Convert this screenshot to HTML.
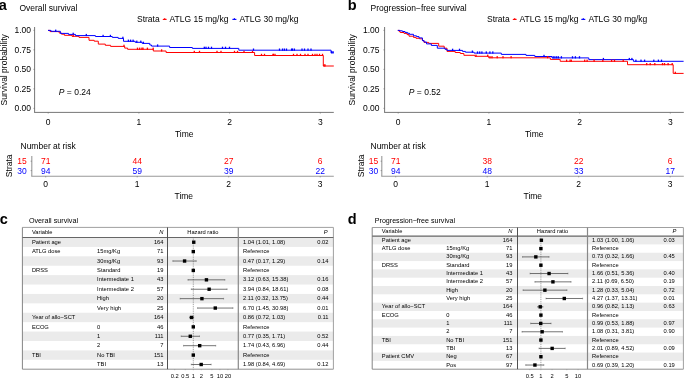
<!DOCTYPE html>
<html><head><meta charset="utf-8"><style>
html,body{margin:0;padding:0;background:#fff;}
body{width:685px;height:378px;overflow:hidden;}
svg{display:block;font-family:"Liberation Sans", sans-serif;will-change:transform;}
</style></head><body>
<svg width="685" height="378" viewBox="0 0 685 378">
<text x="-1.20" y="10.20" font-size="14.5" font-weight="bold">a</text>
<text x="19.40" y="11.20" font-size="8.5">Overall survival</text>
<text x="137.00" y="22.40" font-size="8.5">Strata</text>
<line x1="162.80" y1="19.40" x2="166.60" y2="19.40" stroke="#ff0000" stroke-width="1.1"/>
<rect x="164.10" y="18.20" width="1.20" height="1.40" fill="#ff0000"/>
<text x="169.50" y="22.40" font-size="8.5">ATLG 15 mg/kg</text>
<line x1="232.40" y1="19.40" x2="236.40" y2="19.40" stroke="#0000ff" stroke-width="1.1"/>
<rect x="233.80" y="18.20" width="1.20" height="1.40" fill="#0000ff"/>
<text x="239.50" y="22.40" font-size="8.5">ATLG 30 mg/kg</text>
<line x1="34.60" y1="27.00" x2="34.60" y2="112.40" stroke="#666" stroke-width="0.9"/>
<line x1="34.20" y1="112.40" x2="333.80" y2="112.40" stroke="#666" stroke-width="0.9"/>
<text x="31.00" y="33.30" font-size="8.5" text-anchor="end">1.00</text>
<line x1="33.40" y1="30.35" x2="34.60" y2="30.35" stroke="#666" stroke-width="0.6"/>
<text x="31.00" y="52.80" font-size="8.5" text-anchor="end">0.75</text>
<line x1="33.40" y1="49.85" x2="34.60" y2="49.85" stroke="#666" stroke-width="0.6"/>
<text x="31.00" y="72.30" font-size="8.5" text-anchor="end">0.50</text>
<line x1="33.40" y1="69.35" x2="34.60" y2="69.35" stroke="#666" stroke-width="0.6"/>
<text x="31.00" y="91.80" font-size="8.5" text-anchor="end">0.25</text>
<line x1="33.40" y1="88.85" x2="34.60" y2="88.85" stroke="#666" stroke-width="0.6"/>
<text x="31.00" y="111.30" font-size="8.5" text-anchor="end">0.00</text>
<line x1="33.40" y1="108.35" x2="34.60" y2="108.35" stroke="#666" stroke-width="0.6"/>
<text x="48.20" y="124.50" font-size="8.5" text-anchor="middle">0</text>
<line x1="48.20" y1="112.40" x2="48.20" y2="113.60" stroke="#666" stroke-width="0.6"/>
<text x="138.90" y="124.50" font-size="8.5" text-anchor="middle">1</text>
<line x1="138.90" y1="112.40" x2="138.90" y2="113.60" stroke="#666" stroke-width="0.6"/>
<text x="229.60" y="124.50" font-size="8.5" text-anchor="middle">2</text>
<line x1="229.60" y1="112.40" x2="229.60" y2="113.60" stroke="#666" stroke-width="0.6"/>
<text x="320.30" y="124.50" font-size="8.5" text-anchor="middle">3</text>
<line x1="320.30" y1="112.40" x2="320.30" y2="113.60" stroke="#666" stroke-width="0.6"/>
<text x="184.20" y="136.80" font-size="8.5" text-anchor="middle">Time</text>
<text x="0" y="0" font-size="8.5" text-anchor="middle" transform="translate(6.6,69.8) rotate(-90)">Survival probability</text>
<text x="58.80" y="94.8" font-size="8.5"><tspan font-style="italic">P</tspan> = 0.24</text>
<path d="M48.00,30.40H50.00V31.60H59.20V33.00H61.50V34.20H64.40V35.30H72.00V36.30H79.00V37.40H89.00V40.30H94.20V41.20H98.30V44.10H105.30V45.30H110.60V46.40H124.70V48.10H127.60V49.30H153.30V51.00H166.10V52.50H254.60V55.50H323.30V66.00H333.80" fill="none" stroke="#ff0000" stroke-width="1"/>
<path d="M48.00,30.40H51.00V31.30H60.40V33.40H68.50V34.40H75.50V35.60H95.40V36.50H112.30V37.40H118.20V38.40H123.50V41.30H135.20V42.30H142.20V43.40H149.80V45.00H151.50V46.10H169.60V47.50H192.40V48.40H238.80V50.20H331.10V52.80H333.80" fill="none" stroke="#0000ff" stroke-width="1"/>
<rect x="55.05" y="29.60" width="1.30" height="2.20" fill="#0000ff"/>
<rect x="72.55" y="32.70" width="1.30" height="2.20" fill="#0000ff"/>
<rect x="85.65" y="33.90" width="1.30" height="2.20" fill="#0000ff"/>
<rect x="102.45" y="34.80" width="1.30" height="2.20" fill="#0000ff"/>
<rect x="109.75" y="34.80" width="1.30" height="2.20" fill="#0000ff"/>
<rect x="122.25" y="36.70" width="1.30" height="2.20" fill="#0000ff"/>
<rect x="127.75" y="39.60" width="1.30" height="2.20" fill="#0000ff"/>
<rect x="129.95" y="39.60" width="1.30" height="2.20" fill="#0000ff"/>
<rect x="132.45" y="39.60" width="1.30" height="2.20" fill="#0000ff"/>
<rect x="136.15" y="40.60" width="1.30" height="2.20" fill="#0000ff"/>
<rect x="140.15" y="40.60" width="1.30" height="2.20" fill="#0000ff"/>
<rect x="142.75" y="41.70" width="1.30" height="2.20" fill="#0000ff"/>
<rect x="156.95" y="44.40" width="1.30" height="2.20" fill="#0000ff"/>
<rect x="203.65" y="46.70" width="1.30" height="2.20" fill="#0000ff"/>
<rect x="205.35" y="46.70" width="1.30" height="2.20" fill="#0000ff"/>
<rect x="207.85" y="46.70" width="1.30" height="2.20" fill="#0000ff"/>
<rect x="210.85" y="46.70" width="1.30" height="2.20" fill="#0000ff"/>
<rect x="221.85" y="46.70" width="1.30" height="2.20" fill="#0000ff"/>
<rect x="224.85" y="46.70" width="1.30" height="2.20" fill="#0000ff"/>
<rect x="228.85" y="46.70" width="1.30" height="2.20" fill="#0000ff"/>
<rect x="252.85" y="48.50" width="1.30" height="2.20" fill="#0000ff"/>
<rect x="278.85" y="48.50" width="1.30" height="2.20" fill="#0000ff"/>
<rect x="281.85" y="48.50" width="1.30" height="2.20" fill="#0000ff"/>
<rect x="283.75" y="48.50" width="1.30" height="2.20" fill="#0000ff"/>
<rect x="285.85" y="48.50" width="1.30" height="2.20" fill="#0000ff"/>
<rect x="290.95" y="48.50" width="1.30" height="2.20" fill="#0000ff"/>
<rect x="291.85" y="48.50" width="1.30" height="2.20" fill="#0000ff"/>
<rect x="293.75" y="48.50" width="1.30" height="2.20" fill="#0000ff"/>
<rect x="301.35" y="48.50" width="1.30" height="2.20" fill="#0000ff"/>
<rect x="303.85" y="48.50" width="1.30" height="2.20" fill="#0000ff"/>
<rect x="307.35" y="48.50" width="1.30" height="2.20" fill="#0000ff"/>
<rect x="310.35" y="48.50" width="1.30" height="2.20" fill="#0000ff"/>
<rect x="330.85" y="51.10" width="1.30" height="2.20" fill="#0000ff"/>
<rect x="332.35" y="51.10" width="1.30" height="2.20" fill="#0000ff"/>
<rect x="72.55" y="34.60" width="1.30" height="2.20" fill="#ff0000"/>
<rect x="123.35" y="44.70" width="1.30" height="2.20" fill="#ff0000"/>
<rect x="136.85" y="47.60" width="1.30" height="2.20" fill="#ff0000"/>
<rect x="139.05" y="47.60" width="1.30" height="2.20" fill="#ff0000"/>
<rect x="141.25" y="47.60" width="1.30" height="2.20" fill="#ff0000"/>
<rect x="142.35" y="47.60" width="1.30" height="2.20" fill="#ff0000"/>
<rect x="146.75" y="47.60" width="1.30" height="2.20" fill="#ff0000"/>
<rect x="152.55" y="47.60" width="1.30" height="2.20" fill="#ff0000"/>
<rect x="160.95" y="49.30" width="1.30" height="2.20" fill="#ff0000"/>
<rect x="193.65" y="50.80" width="1.30" height="2.20" fill="#ff0000"/>
<rect x="198.85" y="50.80" width="1.30" height="2.20" fill="#ff0000"/>
<rect x="216.35" y="50.80" width="1.30" height="2.20" fill="#ff0000"/>
<rect x="220.35" y="50.80" width="1.30" height="2.20" fill="#ff0000"/>
<rect x="233.85" y="50.80" width="1.30" height="2.20" fill="#ff0000"/>
<rect x="236.85" y="50.80" width="1.30" height="2.20" fill="#ff0000"/>
<rect x="243.35" y="50.80" width="1.30" height="2.20" fill="#ff0000"/>
<rect x="251.85" y="50.80" width="1.30" height="2.20" fill="#ff0000"/>
<rect x="260.85" y="53.80" width="1.30" height="2.20" fill="#ff0000"/>
<rect x="263.85" y="53.80" width="1.30" height="2.20" fill="#ff0000"/>
<rect x="272.35" y="53.80" width="1.30" height="2.20" fill="#ff0000"/>
<rect x="272.85" y="53.80" width="1.30" height="2.20" fill="#ff0000"/>
<rect x="274.35" y="53.80" width="1.30" height="2.20" fill="#ff0000"/>
<rect x="292.85" y="53.80" width="1.30" height="2.20" fill="#ff0000"/>
<rect x="296.35" y="53.80" width="1.30" height="2.20" fill="#ff0000"/>
<rect x="299.85" y="53.80" width="1.30" height="2.20" fill="#ff0000"/>
<rect x="304.35" y="53.80" width="1.30" height="2.20" fill="#ff0000"/>
<rect x="307.35" y="53.80" width="1.30" height="2.20" fill="#ff0000"/>
<rect x="311.85" y="53.80" width="1.30" height="2.20" fill="#ff0000"/>
<rect x="314.35" y="53.80" width="1.30" height="2.20" fill="#ff0000"/>
<rect x="316.35" y="53.80" width="1.30" height="2.20" fill="#ff0000"/>
<rect x="318.85" y="53.80" width="1.30" height="2.20" fill="#ff0000"/>
<rect x="321.85" y="53.80" width="1.30" height="2.20" fill="#ff0000"/>
<rect x="323.35" y="64.30" width="1.30" height="2.20" fill="#ff0000"/>
<rect x="324.35" y="64.30" width="1.30" height="2.20" fill="#ff0000"/>
<text x="20.50" y="149.00" font-size="8.5">Number at risk</text>
<text x="0" y="0" font-size="8.5" text-anchor="middle" transform="translate(12.2,165.8) rotate(-90)">Strata</text>
<text x="26.80" y="164.20" font-size="8.5" text-anchor="end" fill="#ff0000">15</text>
<text x="26.80" y="173.60" font-size="8.5" text-anchor="end" fill="#0000ff">30</text>
<line x1="31.80" y1="156.00" x2="31.80" y2="176.20" stroke="#999" stroke-width="1.1"/>
<line x1="31.30" y1="176.20" x2="333.80" y2="176.20" stroke="#999" stroke-width="1.1"/>
<text x="45.70" y="164.20" font-size="8.5" text-anchor="middle" fill="#ff0000">71</text>
<text x="45.70" y="173.60" font-size="8.5" text-anchor="middle" fill="#0000ff">94</text>
<text x="45.70" y="187.30" font-size="8.5" text-anchor="middle">0</text>
<line x1="45.70" y1="176.20" x2="45.70" y2="177.40" stroke="#666" stroke-width="0.6"/>
<text x="137.20" y="164.20" font-size="8.5" text-anchor="middle" fill="#ff0000">44</text>
<text x="137.20" y="173.60" font-size="8.5" text-anchor="middle" fill="#0000ff">59</text>
<text x="137.20" y="187.30" font-size="8.5" text-anchor="middle">1</text>
<line x1="137.20" y1="176.20" x2="137.20" y2="177.40" stroke="#666" stroke-width="0.6"/>
<text x="228.70" y="164.20" font-size="8.5" text-anchor="middle" fill="#ff0000">27</text>
<text x="228.70" y="173.60" font-size="8.5" text-anchor="middle" fill="#0000ff">39</text>
<text x="228.70" y="187.30" font-size="8.5" text-anchor="middle">2</text>
<line x1="228.70" y1="176.20" x2="228.70" y2="177.40" stroke="#666" stroke-width="0.6"/>
<text x="320.20" y="164.20" font-size="8.5" text-anchor="middle" fill="#ff0000">6</text>
<text x="320.20" y="173.60" font-size="8.5" text-anchor="middle" fill="#0000ff">22</text>
<text x="320.20" y="187.30" font-size="8.5" text-anchor="middle">3</text>
<line x1="320.20" y1="176.20" x2="320.20" y2="177.40" stroke="#666" stroke-width="0.6"/>
<line x1="30.60" y1="161.20" x2="31.80" y2="161.20" stroke="#666" stroke-width="0.6"/>
<line x1="30.60" y1="170.60" x2="31.80" y2="170.60" stroke="#666" stroke-width="0.6"/>
<text x="183.80" y="199.20" font-size="8.5" text-anchor="middle">Time</text>
<text x="347.80" y="10.20" font-size="14.5" font-weight="bold">b</text>
<text x="370.60" y="11.20" font-size="8.5">Progression−free survival</text>
<text x="487.00" y="22.40" font-size="8.5">Strata</text>
<line x1="512.80" y1="19.40" x2="516.60" y2="19.40" stroke="#ff0000" stroke-width="1.1"/>
<rect x="514.10" y="18.20" width="1.20" height="1.40" fill="#ff0000"/>
<text x="519.50" y="22.40" font-size="8.5">ATLG 15 mg/kg</text>
<line x1="581.30" y1="19.40" x2="585.30" y2="19.40" stroke="#0000ff" stroke-width="1.1"/>
<rect x="582.70" y="18.20" width="1.20" height="1.40" fill="#0000ff"/>
<text x="588.40" y="22.40" font-size="8.5">ATLG 30 mg/kg</text>
<line x1="384.60" y1="27.00" x2="384.60" y2="112.40" stroke="#666" stroke-width="0.9"/>
<line x1="384.20" y1="112.40" x2="683.80" y2="112.40" stroke="#666" stroke-width="0.9"/>
<text x="379.50" y="33.30" font-size="8.5" text-anchor="end">1.00</text>
<line x1="383.40" y1="30.35" x2="384.60" y2="30.35" stroke="#666" stroke-width="0.6"/>
<text x="379.50" y="52.80" font-size="8.5" text-anchor="end">0.75</text>
<line x1="383.40" y1="49.85" x2="384.60" y2="49.85" stroke="#666" stroke-width="0.6"/>
<text x="379.50" y="72.30" font-size="8.5" text-anchor="end">0.50</text>
<line x1="383.40" y1="69.35" x2="384.60" y2="69.35" stroke="#666" stroke-width="0.6"/>
<text x="379.50" y="91.80" font-size="8.5" text-anchor="end">0.25</text>
<line x1="383.40" y1="88.85" x2="384.60" y2="88.85" stroke="#666" stroke-width="0.6"/>
<text x="379.50" y="111.30" font-size="8.5" text-anchor="end">0.00</text>
<line x1="383.40" y1="108.35" x2="384.60" y2="108.35" stroke="#666" stroke-width="0.6"/>
<text x="398.20" y="124.50" font-size="8.5" text-anchor="middle">0</text>
<line x1="398.20" y1="112.40" x2="398.20" y2="113.60" stroke="#666" stroke-width="0.6"/>
<text x="488.90" y="124.50" font-size="8.5" text-anchor="middle">1</text>
<line x1="488.90" y1="112.40" x2="488.90" y2="113.60" stroke="#666" stroke-width="0.6"/>
<text x="579.60" y="124.50" font-size="8.5" text-anchor="middle">2</text>
<line x1="579.60" y1="112.40" x2="579.60" y2="113.60" stroke="#666" stroke-width="0.6"/>
<text x="670.30" y="124.50" font-size="8.5" text-anchor="middle">3</text>
<line x1="670.30" y1="112.40" x2="670.30" y2="113.60" stroke="#666" stroke-width="0.6"/>
<text x="534.20" y="136.80" font-size="8.5" text-anchor="middle">Time</text>
<text x="0" y="0" font-size="8.5" text-anchor="middle" transform="translate(355.3,69.8) rotate(-90)">Survival probability</text>
<text x="408.80" y="94.8" font-size="8.5"><tspan font-style="italic">P</tspan> = 0.52</text>
<path d="M397.80,30.40H399.20V31.50H400.20V32.50H404.00V33.40H407.00V34.60H409.00V36.20H413.50V37.40H416.00V38.30H419.50V38.80H422.50V40.50H424.00V42.40H428.70V43.40H438.70V46.20H444.20V48.20H447.00V51.40H455.20V52.50H460.30V53.50H463.90V55.30H474.90V56.30H488.70V57.80H550.30V59.40H560.20V61.30H627.50V64.70H673.20V73.40H683.60" fill="none" stroke="#ff0000" stroke-width="1"/>
<path d="M397.80,30.40H400.10V30.80H402.40V31.50H405.00V32.40H407.50V33.30H409.50V34.30H413.50V35.80H416.50V36.60H419.00V37.90H422.40V40.60H424.00V42.00H426.50V43.90H431.30V45.40H437.30V48.20H445.00V49.30H447.00V50.40H462.50V51.40H465.40V52.20H474.10V53.10H501.30V54.40H526.00V55.40H534.80V56.50H552.00V57.90H588.80V59.60H633.40V61.30H683.60" fill="none" stroke="#0000ff" stroke-width="1"/>
<rect x="451.95" y="48.70" width="1.30" height="2.20" fill="#0000ff"/>
<rect x="458.85" y="48.70" width="1.30" height="2.20" fill="#0000ff"/>
<rect x="471.75" y="50.50" width="1.30" height="2.20" fill="#0000ff"/>
<rect x="476.85" y="51.40" width="1.30" height="2.20" fill="#0000ff"/>
<rect x="479.05" y="51.40" width="1.30" height="2.20" fill="#0000ff"/>
<rect x="481.25" y="51.40" width="1.30" height="2.20" fill="#0000ff"/>
<rect x="485.65" y="51.40" width="1.30" height="2.20" fill="#0000ff"/>
<rect x="489.25" y="51.40" width="1.30" height="2.20" fill="#0000ff"/>
<rect x="492.15" y="51.40" width="1.30" height="2.20" fill="#0000ff"/>
<rect x="543.35" y="54.80" width="1.30" height="2.20" fill="#0000ff"/>
<rect x="552.55" y="56.20" width="1.30" height="2.20" fill="#0000ff"/>
<rect x="554.25" y="56.20" width="1.30" height="2.20" fill="#0000ff"/>
<rect x="556.05" y="56.20" width="1.30" height="2.20" fill="#0000ff"/>
<rect x="557.75" y="56.20" width="1.30" height="2.20" fill="#0000ff"/>
<rect x="560.75" y="56.20" width="1.30" height="2.20" fill="#0000ff"/>
<rect x="571.85" y="56.20" width="1.30" height="2.20" fill="#0000ff"/>
<rect x="574.75" y="56.20" width="1.30" height="2.20" fill="#0000ff"/>
<rect x="578.85" y="56.20" width="1.30" height="2.20" fill="#0000ff"/>
<rect x="602.75" y="57.90" width="1.30" height="2.20" fill="#0000ff"/>
<rect x="628.65" y="57.90" width="1.30" height="2.20" fill="#0000ff"/>
<rect x="631.25" y="57.90" width="1.30" height="2.20" fill="#0000ff"/>
<rect x="635.25" y="59.60" width="1.30" height="2.20" fill="#0000ff"/>
<rect x="640.35" y="59.60" width="1.30" height="2.20" fill="#0000ff"/>
<rect x="643.95" y="59.60" width="1.30" height="2.20" fill="#0000ff"/>
<rect x="653.15" y="59.60" width="1.30" height="2.20" fill="#0000ff"/>
<rect x="657.75" y="59.60" width="1.30" height="2.20" fill="#0000ff"/>
<rect x="660.85" y="59.60" width="1.30" height="2.20" fill="#0000ff"/>
<rect x="475.35" y="54.60" width="1.30" height="2.20" fill="#ff0000"/>
<rect x="487.05" y="54.60" width="1.30" height="2.20" fill="#ff0000"/>
<rect x="489.35" y="56.10" width="1.30" height="2.20" fill="#ff0000"/>
<rect x="491.35" y="56.10" width="1.30" height="2.20" fill="#ff0000"/>
<rect x="496.55" y="56.10" width="1.30" height="2.20" fill="#ff0000"/>
<rect x="502.35" y="56.10" width="1.30" height="2.20" fill="#ff0000"/>
<rect x="510.45" y="56.10" width="1.30" height="2.20" fill="#ff0000"/>
<rect x="546.95" y="56.10" width="1.30" height="2.20" fill="#ff0000"/>
<rect x="565.95" y="59.60" width="1.30" height="2.20" fill="#ff0000"/>
<rect x="569.45" y="59.60" width="1.30" height="2.20" fill="#ff0000"/>
<rect x="570.65" y="59.60" width="1.30" height="2.20" fill="#ff0000"/>
<rect x="584.05" y="59.60" width="1.30" height="2.20" fill="#ff0000"/>
<rect x="586.45" y="59.60" width="1.30" height="2.20" fill="#ff0000"/>
<rect x="593.45" y="59.60" width="1.30" height="2.20" fill="#ff0000"/>
<rect x="602.15" y="59.60" width="1.30" height="2.20" fill="#ff0000"/>
<rect x="610.95" y="59.60" width="1.30" height="2.20" fill="#ff0000"/>
<rect x="613.85" y="59.60" width="1.30" height="2.20" fill="#ff0000"/>
<rect x="622.55" y="59.60" width="1.30" height="2.20" fill="#ff0000"/>
<rect x="646.05" y="63.00" width="1.30" height="2.20" fill="#ff0000"/>
<rect x="649.55" y="63.00" width="1.30" height="2.20" fill="#ff0000"/>
<rect x="654.15" y="63.00" width="1.30" height="2.20" fill="#ff0000"/>
<rect x="661.85" y="63.00" width="1.30" height="2.20" fill="#ff0000"/>
<rect x="663.85" y="63.00" width="1.30" height="2.20" fill="#ff0000"/>
<rect x="667.45" y="63.00" width="1.30" height="2.20" fill="#ff0000"/>
<rect x="671.55" y="63.00" width="1.30" height="2.20" fill="#ff0000"/>
<rect x="674.65" y="71.70" width="1.30" height="2.20" fill="#ff0000"/>
<text x="370.50" y="149.00" font-size="8.5">Number at risk</text>
<text x="0" y="0" font-size="8.5" text-anchor="middle" transform="translate(363.59999999999997,165.8) rotate(-90)">Strata</text>
<text x="378.20" y="164.20" font-size="8.5" text-anchor="end" fill="#ff0000">15</text>
<text x="378.20" y="173.60" font-size="8.5" text-anchor="end" fill="#0000ff">30</text>
<line x1="381.80" y1="156.00" x2="381.80" y2="176.20" stroke="#999" stroke-width="1.1"/>
<line x1="381.30" y1="176.20" x2="683.80" y2="176.20" stroke="#999" stroke-width="1.1"/>
<text x="395.70" y="164.20" font-size="8.5" text-anchor="middle" fill="#ff0000">71</text>
<text x="395.70" y="173.60" font-size="8.5" text-anchor="middle" fill="#0000ff">94</text>
<text x="395.70" y="187.30" font-size="8.5" text-anchor="middle">0</text>
<line x1="395.70" y1="176.20" x2="395.70" y2="177.40" stroke="#666" stroke-width="0.6"/>
<text x="487.20" y="164.20" font-size="8.5" text-anchor="middle" fill="#ff0000">38</text>
<text x="487.20" y="173.60" font-size="8.5" text-anchor="middle" fill="#0000ff">48</text>
<text x="487.20" y="187.30" font-size="8.5" text-anchor="middle">1</text>
<line x1="487.20" y1="176.20" x2="487.20" y2="177.40" stroke="#666" stroke-width="0.6"/>
<text x="578.70" y="164.20" font-size="8.5" text-anchor="middle" fill="#ff0000">22</text>
<text x="578.70" y="173.60" font-size="8.5" text-anchor="middle" fill="#0000ff">33</text>
<text x="578.70" y="187.30" font-size="8.5" text-anchor="middle">2</text>
<line x1="578.70" y1="176.20" x2="578.70" y2="177.40" stroke="#666" stroke-width="0.6"/>
<text x="670.20" y="164.20" font-size="8.5" text-anchor="middle" fill="#ff0000">6</text>
<text x="670.20" y="173.60" font-size="8.5" text-anchor="middle" fill="#0000ff">17</text>
<text x="670.20" y="187.30" font-size="8.5" text-anchor="middle">3</text>
<line x1="670.20" y1="176.20" x2="670.20" y2="177.40" stroke="#666" stroke-width="0.6"/>
<line x1="380.60" y1="161.20" x2="381.80" y2="161.20" stroke="#666" stroke-width="0.6"/>
<line x1="380.60" y1="170.60" x2="381.80" y2="170.60" stroke="#666" stroke-width="0.6"/>
<text x="532.80" y="199.20" font-size="8.5" text-anchor="middle">Time</text>
<text x="-0.30" y="223.90" font-size="14.5" font-weight="bold">c</text>
<text x="28.90" y="223.00" font-size="7.2">Overall survival</text>
<rect x="22.40" y="237.50" width="311.00" height="9.41" fill="#ebebeb"/>
<rect x="22.40" y="256.31" width="311.00" height="9.41" fill="#ebebeb"/>
<rect x="22.40" y="275.13" width="311.00" height="9.41" fill="#ebebeb"/>
<rect x="22.40" y="293.94" width="311.00" height="9.41" fill="#ebebeb"/>
<rect x="22.40" y="312.76" width="311.00" height="9.41" fill="#ebebeb"/>
<rect x="22.40" y="331.57" width="311.00" height="9.41" fill="#ebebeb"/>
<rect x="22.40" y="350.39" width="311.00" height="9.41" fill="#ebebeb"/>
<line x1="193.30" y1="237.50" x2="193.30" y2="369.20" stroke="#555" stroke-width="0.6" stroke-dasharray="0.9,0.9"/>
<line x1="22.40" y1="227.40" x2="333.40" y2="227.40" stroke="#a0a0a0" stroke-width="1"/>
<line x1="22.40" y1="369.20" x2="333.40" y2="369.20" stroke="#909090" stroke-width="1"/>
<line x1="22.40" y1="227.40" x2="22.40" y2="369.20" stroke="#858585" stroke-width="1"/>
<line x1="333.40" y1="227.40" x2="333.40" y2="369.20" stroke="#a0a0a0" stroke-width="1"/>
<line x1="22.40" y1="237.50" x2="333.40" y2="237.50" stroke="#666" stroke-width="1.1"/>
<line x1="167.50" y1="227.40" x2="167.50" y2="369.20" stroke="#505050" stroke-width="1"/>
<line x1="238.30" y1="227.40" x2="238.30" y2="369.20" stroke="#888" stroke-width="1.2"/>
<text x="31.90" y="234.20" font-size="5.75">Variable</text>
<text x="163.50" y="234.20" font-size="5.75" text-anchor="end" font-style="italic">N</text>
<text x="202.90" y="234.20" font-size="5.75" text-anchor="middle">Hazard ratio</text>
<text x="327.50" y="234.20" font-size="5.75" text-anchor="end" font-style="italic">P</text>
<text x="31.90" y="243.85" font-size="5.75">Patient age</text>
<text x="163.50" y="243.85" font-size="5.75" text-anchor="end">164</text>
<text x="243.00" y="243.85" font-size="5.75">1.04 (1.01, 1.08)</text>
<text x="328.50" y="243.85" font-size="5.75" text-anchor="end">0.02</text>
<line x1="193.41" y1="242.20" x2="194.19" y2="242.20" stroke="#3a3a3a" stroke-width="0.7"/>
<line x1="193.41" y1="241.40" x2="193.41" y2="243.00" stroke="#555" stroke-width="0.5"/>
<line x1="194.19" y1="241.40" x2="194.19" y2="243.00" stroke="#555" stroke-width="0.5"/>
<rect x="192.05" y="240.50" width="3.40" height="3.40" fill="#000"/>
<text x="31.90" y="253.26" font-size="5.75">ATLG dose</text>
<text x="97.10" y="253.26" font-size="5.75">15mg/Kg</text>
<text x="163.50" y="253.26" font-size="5.75" text-anchor="end">71</text>
<text x="243.00" y="253.26" font-size="5.75">Reference</text>
<rect x="191.60" y="249.91" width="3.40" height="3.40" fill="#000"/>
<text x="97.10" y="262.67" font-size="5.75">30mg/Kg</text>
<text x="163.50" y="262.67" font-size="5.75" text-anchor="end">93</text>
<text x="243.00" y="262.67" font-size="5.75">0.47 (0.17, 1.29)</text>
<text x="328.50" y="262.67" font-size="5.75" text-anchor="end">0.14</text>
<line x1="172.83" y1="261.02" x2="196.24" y2="261.02" stroke="#3a3a3a" stroke-width="0.7"/>
<line x1="172.83" y1="260.22" x2="172.83" y2="261.82" stroke="#555" stroke-width="0.5"/>
<line x1="196.24" y1="260.22" x2="196.24" y2="261.82" stroke="#555" stroke-width="0.5"/>
<rect x="182.88" y="259.32" width="3.40" height="3.40" fill="#000"/>
<text x="31.90" y="272.07" font-size="5.75">DRSS</text>
<text x="97.10" y="272.07" font-size="5.75">Standard</text>
<text x="163.50" y="272.07" font-size="5.75" text-anchor="end">19</text>
<text x="243.00" y="272.07" font-size="5.75">Reference</text>
<rect x="191.60" y="268.73" width="3.40" height="3.40" fill="#000"/>
<text x="97.10" y="281.48" font-size="5.75">Intermediate 1</text>
<text x="163.50" y="281.48" font-size="5.75" text-anchor="end">43</text>
<text x="243.00" y="281.48" font-size="5.75">3.12 (0.63, 15.38)</text>
<text x="328.50" y="281.48" font-size="5.75" text-anchor="end">0.16</text>
<line x1="187.96" y1="279.83" x2="224.87" y2="279.83" stroke="#3a3a3a" stroke-width="0.7"/>
<line x1="187.96" y1="279.03" x2="187.96" y2="280.63" stroke="#555" stroke-width="0.5"/>
<line x1="224.87" y1="279.03" x2="224.87" y2="280.63" stroke="#555" stroke-width="0.5"/>
<rect x="204.74" y="278.13" width="3.40" height="3.40" fill="#000"/>
<text x="97.10" y="290.89" font-size="5.75">Intermediate 2</text>
<text x="163.50" y="290.89" font-size="5.75" text-anchor="end">57</text>
<text x="243.00" y="290.89" font-size="5.75">3.94 (0.84, 18.61)</text>
<text x="328.50" y="290.89" font-size="5.75" text-anchor="end">0.08</text>
<line x1="191.29" y1="289.24" x2="227.08" y2="289.24" stroke="#3a3a3a" stroke-width="0.7"/>
<line x1="191.29" y1="288.44" x2="191.29" y2="290.04" stroke="#555" stroke-width="0.5"/>
<line x1="227.08" y1="288.44" x2="227.08" y2="290.04" stroke="#555" stroke-width="0.5"/>
<rect x="207.44" y="287.54" width="3.40" height="3.40" fill="#000"/>
<text x="97.10" y="300.30" font-size="5.75">High</text>
<text x="163.50" y="300.30" font-size="5.75" text-anchor="end">20</text>
<text x="243.00" y="300.30" font-size="5.75">2.11 (0.32, 13.75)</text>
<text x="328.50" y="300.30" font-size="5.75" text-anchor="end">0.44</text>
<line x1="180.14" y1="298.65" x2="223.58" y2="298.65" stroke="#3a3a3a" stroke-width="0.7"/>
<line x1="180.14" y1="297.85" x2="180.14" y2="299.45" stroke="#555" stroke-width="0.5"/>
<line x1="223.58" y1="297.85" x2="223.58" y2="299.45" stroke="#555" stroke-width="0.5"/>
<rect x="200.23" y="296.95" width="3.40" height="3.40" fill="#000"/>
<text x="97.10" y="309.70" font-size="5.75">Very high</text>
<text x="163.50" y="309.70" font-size="5.75" text-anchor="end">25</text>
<text x="243.00" y="309.70" font-size="5.75">6.70 (1.45, 30.98)</text>
<text x="328.50" y="309.70" font-size="5.75" text-anchor="end">0.01</text>
<line x1="197.59" y1="308.05" x2="232.96" y2="308.05" stroke="#3a3a3a" stroke-width="0.7"/>
<line x1="197.59" y1="307.25" x2="197.59" y2="308.85" stroke="#555" stroke-width="0.5"/>
<line x1="232.96" y1="307.25" x2="232.96" y2="308.85" stroke="#555" stroke-width="0.5"/>
<rect x="213.57" y="306.35" width="3.40" height="3.40" fill="#000"/>
<text x="31.90" y="319.11" font-size="5.75">Year of allo−SCT</text>
<text x="163.50" y="319.11" font-size="5.75" text-anchor="end">164</text>
<text x="243.00" y="319.11" font-size="5.75">0.86 (0.72, 1.03)</text>
<text x="328.50" y="319.11" font-size="5.75" text-anchor="end">0.11</text>
<line x1="189.51" y1="317.46" x2="193.64" y2="317.46" stroke="#3a3a3a" stroke-width="0.7"/>
<line x1="189.51" y1="316.66" x2="189.51" y2="318.26" stroke="#555" stroke-width="0.5"/>
<line x1="193.64" y1="316.66" x2="193.64" y2="318.26" stroke="#555" stroke-width="0.5"/>
<rect x="189.86" y="315.76" width="3.40" height="3.40" fill="#000"/>
<text x="31.90" y="328.52" font-size="5.75">ECOG</text>
<text x="97.10" y="328.52" font-size="5.75">0</text>
<text x="163.50" y="328.52" font-size="5.75" text-anchor="end">46</text>
<text x="243.00" y="328.52" font-size="5.75">Reference</text>
<rect x="191.60" y="325.17" width="3.40" height="3.40" fill="#000"/>
<text x="97.10" y="337.92" font-size="5.75">1</text>
<text x="163.50" y="337.92" font-size="5.75" text-anchor="end">111</text>
<text x="243.00" y="337.92" font-size="5.75">0.77 (0.35, 1.71)</text>
<text x="328.50" y="337.92" font-size="5.75" text-anchor="end">0.52</text>
<line x1="181.17" y1="336.27" x2="199.50" y2="336.27" stroke="#3a3a3a" stroke-width="0.7"/>
<line x1="181.17" y1="335.47" x2="181.17" y2="337.07" stroke="#555" stroke-width="0.5"/>
<line x1="199.50" y1="335.47" x2="199.50" y2="337.07" stroke="#555" stroke-width="0.5"/>
<rect x="188.58" y="334.57" width="3.40" height="3.40" fill="#000"/>
<text x="97.10" y="347.33" font-size="5.75">2</text>
<text x="163.50" y="347.33" font-size="5.75" text-anchor="end">7</text>
<text x="243.00" y="347.33" font-size="5.75">1.74 (0.43, 6.96)</text>
<text x="328.50" y="347.33" font-size="5.75" text-anchor="end">0.44</text>
<line x1="183.55" y1="345.68" x2="215.71" y2="345.68" stroke="#3a3a3a" stroke-width="0.7"/>
<line x1="183.55" y1="344.88" x2="183.55" y2="346.48" stroke="#555" stroke-width="0.5"/>
<line x1="215.71" y1="344.88" x2="215.71" y2="346.48" stroke="#555" stroke-width="0.5"/>
<rect x="198.00" y="343.98" width="3.40" height="3.40" fill="#000"/>
<text x="31.90" y="356.74" font-size="5.75">TBI</text>
<text x="97.10" y="356.74" font-size="5.75">No TBI</text>
<text x="163.50" y="356.74" font-size="5.75" text-anchor="end">151</text>
<text x="243.00" y="356.74" font-size="5.75">Reference</text>
<rect x="191.60" y="353.39" width="3.40" height="3.40" fill="#000"/>
<text x="97.10" y="366.15" font-size="5.75">TBI</text>
<text x="163.50" y="366.15" font-size="5.75" text-anchor="end">13</text>
<text x="243.00" y="366.15" font-size="5.75">1.98 (0.84, 4.69)</text>
<text x="328.50" y="366.15" font-size="5.75" text-anchor="end">0.12</text>
<line x1="191.29" y1="364.50" x2="211.15" y2="364.50" stroke="#3a3a3a" stroke-width="0.7"/>
<line x1="191.29" y1="363.70" x2="191.29" y2="365.30" stroke="#555" stroke-width="0.5"/>
<line x1="211.15" y1="363.70" x2="211.15" y2="365.30" stroke="#555" stroke-width="0.5"/>
<rect x="199.49" y="362.80" width="3.40" height="3.40" fill="#000"/>
<line x1="174.71" y1="369.20" x2="174.71" y2="370.20" stroke="#888" stroke-width="0.5"/>
<text x="174.71" y="377.60" font-size="5.75" text-anchor="middle">0.2</text>
<line x1="185.29" y1="369.20" x2="185.29" y2="370.20" stroke="#888" stroke-width="0.5"/>
<text x="185.29" y="377.60" font-size="5.75" text-anchor="middle">0.5</text>
<line x1="193.30" y1="369.20" x2="193.30" y2="370.20" stroke="#888" stroke-width="0.5"/>
<text x="193.30" y="377.60" font-size="5.75" text-anchor="middle">1</text>
<line x1="201.31" y1="369.20" x2="201.31" y2="370.20" stroke="#888" stroke-width="0.5"/>
<text x="201.31" y="377.60" font-size="5.75" text-anchor="middle">2</text>
<line x1="211.89" y1="369.20" x2="211.89" y2="370.20" stroke="#888" stroke-width="0.5"/>
<text x="211.89" y="377.60" font-size="5.75" text-anchor="middle">5</text>
<line x1="219.90" y1="369.20" x2="219.90" y2="370.20" stroke="#888" stroke-width="0.5"/>
<text x="219.90" y="377.60" font-size="5.75" text-anchor="middle">10</text>
<line x1="227.91" y1="369.20" x2="227.91" y2="370.20" stroke="#888" stroke-width="0.5"/>
<text x="227.91" y="377.60" font-size="5.75" text-anchor="middle">20</text>
<text x="347.80" y="223.70" font-size="14.5" font-weight="bold">d</text>
<text x="374.80" y="223.00" font-size="7.1">Progression−free survival</text>
<rect x="372.20" y="236.10" width="311.20" height="8.32" fill="#ebebeb"/>
<rect x="372.20" y="252.74" width="311.20" height="8.32" fill="#ebebeb"/>
<rect x="372.20" y="269.38" width="311.20" height="8.32" fill="#ebebeb"/>
<rect x="372.20" y="286.01" width="311.20" height="8.32" fill="#ebebeb"/>
<rect x="372.20" y="302.65" width="311.20" height="8.32" fill="#ebebeb"/>
<rect x="372.20" y="319.29" width="311.20" height="8.32" fill="#ebebeb"/>
<rect x="372.20" y="335.92" width="311.20" height="8.32" fill="#ebebeb"/>
<rect x="372.20" y="352.56" width="311.20" height="8.32" fill="#ebebeb"/>
<line x1="540.90" y1="236.10" x2="540.90" y2="369.20" stroke="#555" stroke-width="0.6" stroke-dasharray="0.9,0.9"/>
<line x1="372.20" y1="227.50" x2="683.40" y2="227.50" stroke="#a0a0a0" stroke-width="1"/>
<line x1="372.20" y1="369.20" x2="683.40" y2="369.20" stroke="#909090" stroke-width="1"/>
<line x1="372.20" y1="227.50" x2="372.20" y2="369.20" stroke="#858585" stroke-width="1"/>
<line x1="683.40" y1="227.50" x2="683.40" y2="369.20" stroke="#a0a0a0" stroke-width="1"/>
<line x1="372.20" y1="236.10" x2="683.40" y2="236.10" stroke="#666" stroke-width="1.1"/>
<line x1="517.50" y1="227.50" x2="517.50" y2="369.20" stroke="#505050" stroke-width="1"/>
<line x1="587.50" y1="227.50" x2="587.50" y2="369.20" stroke="#888" stroke-width="1.2"/>
<text x="381.80" y="233.40" font-size="5.75">Variable</text>
<text x="512.40" y="233.40" font-size="5.75" text-anchor="end" font-style="italic">N</text>
<text x="552.50" y="233.40" font-size="5.75" text-anchor="middle">Hazard ratio</text>
<text x="676.40" y="233.40" font-size="5.75" text-anchor="end" font-style="italic">P</text>
<text x="381.80" y="241.76" font-size="5.75">Patient age</text>
<text x="512.40" y="241.76" font-size="5.75" text-anchor="end">164</text>
<text x="592.10" y="241.76" font-size="5.75">1.03 (1.00, 1.06)</text>
<text x="674.80" y="241.76" font-size="5.75" text-anchor="end">0.03</text>
<line x1="540.90" y1="240.26" x2="541.84" y2="240.26" stroke="#3a3a3a" stroke-width="0.7"/>
<line x1="540.90" y1="239.46" x2="540.90" y2="241.06" stroke="#555" stroke-width="0.5"/>
<line x1="541.84" y1="239.46" x2="541.84" y2="241.06" stroke="#555" stroke-width="0.5"/>
<rect x="539.68" y="238.56" width="3.40" height="3.40" fill="#000"/>
<text x="381.80" y="250.08" font-size="5.75">ATLG dose</text>
<text x="446.20" y="250.08" font-size="5.75">15mg/Kg</text>
<text x="512.40" y="250.08" font-size="5.75" text-anchor="end">71</text>
<text x="592.10" y="250.08" font-size="5.75">Reference</text>
<rect x="539.20" y="246.88" width="3.40" height="3.40" fill="#000"/>
<text x="446.20" y="258.40" font-size="5.75">30mg/Kg</text>
<text x="512.40" y="258.40" font-size="5.75" text-anchor="end">93</text>
<text x="592.10" y="258.40" font-size="5.75">0.73 (0.32, 1.66)</text>
<text x="674.80" y="258.40" font-size="5.75" text-anchor="end">0.45</text>
<line x1="522.54" y1="256.90" x2="549.07" y2="256.90" stroke="#3a3a3a" stroke-width="0.7"/>
<line x1="522.54" y1="256.10" x2="522.54" y2="257.70" stroke="#555" stroke-width="0.5"/>
<line x1="549.07" y1="256.10" x2="549.07" y2="257.70" stroke="#555" stroke-width="0.5"/>
<rect x="534.13" y="255.20" width="3.40" height="3.40" fill="#000"/>
<text x="381.80" y="266.72" font-size="5.75">DRSS</text>
<text x="446.20" y="266.72" font-size="5.75">Standard</text>
<text x="512.40" y="266.72" font-size="5.75" text-anchor="end">19</text>
<text x="592.10" y="266.72" font-size="5.75">Reference</text>
<rect x="539.20" y="263.52" width="3.40" height="3.40" fill="#000"/>
<text x="446.20" y="275.03" font-size="5.75">Intermediate 1</text>
<text x="512.40" y="275.03" font-size="5.75" text-anchor="end">43</text>
<text x="592.10" y="275.03" font-size="5.75">1.66 (0.51, 5.36)</text>
<text x="674.80" y="275.03" font-size="5.75" text-anchor="end">0.40</text>
<line x1="530.05" y1="273.53" x2="567.95" y2="273.53" stroke="#3a3a3a" stroke-width="0.7"/>
<line x1="530.05" y1="272.73" x2="530.05" y2="274.33" stroke="#555" stroke-width="0.5"/>
<line x1="567.95" y1="272.73" x2="567.95" y2="274.33" stroke="#555" stroke-width="0.5"/>
<rect x="547.37" y="271.83" width="3.40" height="3.40" fill="#000"/>
<text x="446.20" y="283.35" font-size="5.75">Intermediate 2</text>
<text x="512.40" y="283.35" font-size="5.75" text-anchor="end">57</text>
<text x="592.10" y="283.35" font-size="5.75">2.11 (0.69, 6.50)</text>
<text x="674.80" y="283.35" font-size="5.75" text-anchor="end">0.19</text>
<line x1="534.92" y1="281.85" x2="571.06" y2="281.85" stroke="#3a3a3a" stroke-width="0.7"/>
<line x1="534.92" y1="281.05" x2="534.92" y2="282.65" stroke="#555" stroke-width="0.5"/>
<line x1="571.06" y1="281.05" x2="571.06" y2="282.65" stroke="#555" stroke-width="0.5"/>
<rect x="551.23" y="280.15" width="3.40" height="3.40" fill="#000"/>
<text x="446.20" y="291.67" font-size="5.75">High</text>
<text x="512.40" y="291.67" font-size="5.75" text-anchor="end">20</text>
<text x="592.10" y="291.67" font-size="5.75">1.28 (0.33, 5.04)</text>
<text x="674.80" y="291.67" font-size="5.75" text-anchor="end">0.72</text>
<line x1="523.04" y1="290.17" x2="566.96" y2="290.17" stroke="#3a3a3a" stroke-width="0.7"/>
<line x1="523.04" y1="289.37" x2="523.04" y2="290.97" stroke="#555" stroke-width="0.5"/>
<line x1="566.96" y1="289.37" x2="566.96" y2="290.97" stroke="#555" stroke-width="0.5"/>
<rect x="543.18" y="288.47" width="3.40" height="3.40" fill="#000"/>
<text x="446.20" y="299.99" font-size="5.75">Very high</text>
<text x="512.40" y="299.99" font-size="5.75" text-anchor="end">25</text>
<text x="592.10" y="299.99" font-size="5.75">4.27 (1.37, 13.31)</text>
<text x="674.80" y="299.99" font-size="5.75" text-anchor="end">0.01</text>
<line x1="545.97" y1="298.49" x2="582.61" y2="298.49" stroke="#3a3a3a" stroke-width="0.7"/>
<line x1="545.97" y1="297.69" x2="545.97" y2="299.29" stroke="#555" stroke-width="0.5"/>
<line x1="582.61" y1="297.69" x2="582.61" y2="299.29" stroke="#555" stroke-width="0.5"/>
<rect x="562.59" y="296.79" width="3.40" height="3.40" fill="#000"/>
<text x="381.80" y="308.31" font-size="5.75">Year of allo−SCT</text>
<text x="512.40" y="308.31" font-size="5.75" text-anchor="end">164</text>
<text x="592.10" y="308.31" font-size="5.75">0.96 (0.82, 1.13)</text>
<text x="674.80" y="308.31" font-size="5.75" text-anchor="end">0.63</text>
<line x1="537.70" y1="306.81" x2="542.87" y2="306.81" stroke="#3a3a3a" stroke-width="0.7"/>
<line x1="537.70" y1="306.01" x2="537.70" y2="307.61" stroke="#555" stroke-width="0.5"/>
<line x1="542.87" y1="306.01" x2="542.87" y2="307.61" stroke="#555" stroke-width="0.5"/>
<rect x="538.54" y="305.11" width="3.40" height="3.40" fill="#000"/>
<text x="381.80" y="316.63" font-size="5.75">ECOG</text>
<text x="446.20" y="316.63" font-size="5.75">0</text>
<text x="512.40" y="316.63" font-size="5.75" text-anchor="end">46</text>
<text x="592.10" y="316.63" font-size="5.75">Reference</text>
<rect x="539.20" y="313.43" width="3.40" height="3.40" fill="#000"/>
<text x="446.20" y="324.95" font-size="5.75">1</text>
<text x="512.40" y="324.95" font-size="5.75" text-anchor="end">111</text>
<text x="592.10" y="324.95" font-size="5.75">0.99 (0.53, 1.88)</text>
<text x="674.80" y="324.95" font-size="5.75" text-anchor="end">0.97</text>
<line x1="530.67" y1="323.45" x2="551.07" y2="323.45" stroke="#3a3a3a" stroke-width="0.7"/>
<line x1="530.67" y1="322.65" x2="530.67" y2="324.25" stroke="#555" stroke-width="0.5"/>
<line x1="551.07" y1="322.65" x2="551.07" y2="324.25" stroke="#555" stroke-width="0.5"/>
<rect x="539.04" y="321.75" width="3.40" height="3.40" fill="#000"/>
<text x="446.20" y="333.27" font-size="5.75">2</text>
<text x="512.40" y="333.27" font-size="5.75" text-anchor="end">7</text>
<text x="592.10" y="333.27" font-size="5.75">1.08 (0.31, 3.81)</text>
<text x="674.80" y="333.27" font-size="5.75" text-anchor="end">0.90</text>
<line x1="522.03" y1="331.77" x2="562.45" y2="331.77" stroke="#3a3a3a" stroke-width="0.7"/>
<line x1="522.03" y1="330.97" x2="522.03" y2="332.57" stroke="#555" stroke-width="0.5"/>
<line x1="562.45" y1="330.97" x2="562.45" y2="332.57" stroke="#555" stroke-width="0.5"/>
<rect x="540.44" y="330.07" width="3.40" height="3.40" fill="#000"/>
<text x="381.80" y="341.58" font-size="5.75">TBI</text>
<text x="446.20" y="341.58" font-size="5.75">No TBI</text>
<text x="512.40" y="341.58" font-size="5.75" text-anchor="end">151</text>
<text x="592.10" y="341.58" font-size="5.75">Reference</text>
<rect x="539.20" y="338.38" width="3.40" height="3.40" fill="#000"/>
<text x="446.20" y="349.90" font-size="5.75">TBI</text>
<text x="512.40" y="349.90" font-size="5.75" text-anchor="end">13</text>
<text x="592.10" y="349.90" font-size="5.75">2.01 (0.89, 4.52)</text>
<text x="674.80" y="349.90" font-size="5.75" text-anchor="end">0.09</text>
<line x1="539.02" y1="348.40" x2="565.21" y2="348.40" stroke="#3a3a3a" stroke-width="0.7"/>
<line x1="539.02" y1="347.60" x2="539.02" y2="349.20" stroke="#555" stroke-width="0.5"/>
<line x1="565.21" y1="347.60" x2="565.21" y2="349.20" stroke="#555" stroke-width="0.5"/>
<rect x="550.45" y="346.70" width="3.40" height="3.40" fill="#000"/>
<text x="381.80" y="358.22" font-size="5.75">Patient CMV</text>
<text x="446.20" y="358.22" font-size="5.75">Neg</text>
<text x="512.40" y="358.22" font-size="5.75" text-anchor="end">67</text>
<text x="592.10" y="358.22" font-size="5.75">Reference</text>
<rect x="539.20" y="355.02" width="3.40" height="3.40" fill="#000"/>
<text x="446.20" y="366.54" font-size="5.75">Pos</text>
<text x="512.40" y="366.54" font-size="5.75" text-anchor="end">97</text>
<text x="592.10" y="366.54" font-size="5.75">0.69 (0.39, 1.20)</text>
<text x="674.80" y="366.54" font-size="5.75" text-anchor="end">0.19</text>
<line x1="525.73" y1="365.04" x2="543.84" y2="365.04" stroke="#3a3a3a" stroke-width="0.7"/>
<line x1="525.73" y1="364.24" x2="525.73" y2="365.84" stroke="#555" stroke-width="0.5"/>
<line x1="543.84" y1="364.24" x2="543.84" y2="365.84" stroke="#555" stroke-width="0.5"/>
<rect x="533.22" y="363.34" width="3.40" height="3.40" fill="#000"/>
<line x1="529.73" y1="369.20" x2="529.73" y2="370.20" stroke="#888" stroke-width="0.5"/>
<text x="529.73" y="377.60" font-size="5.75" text-anchor="middle">0.5</text>
<line x1="540.90" y1="369.20" x2="540.90" y2="370.20" stroke="#888" stroke-width="0.5"/>
<text x="540.90" y="377.60" font-size="5.75" text-anchor="middle">1</text>
<line x1="552.07" y1="369.20" x2="552.07" y2="370.20" stroke="#888" stroke-width="0.5"/>
<text x="552.07" y="377.60" font-size="5.75" text-anchor="middle">2</text>
<line x1="566.83" y1="369.20" x2="566.83" y2="370.20" stroke="#888" stroke-width="0.5"/>
<text x="566.83" y="377.60" font-size="5.75" text-anchor="middle">5</text>
<line x1="578.00" y1="369.20" x2="578.00" y2="370.20" stroke="#888" stroke-width="0.5"/>
<text x="578.00" y="377.60" font-size="5.75" text-anchor="middle">10</text>
</svg>
</body></html>
